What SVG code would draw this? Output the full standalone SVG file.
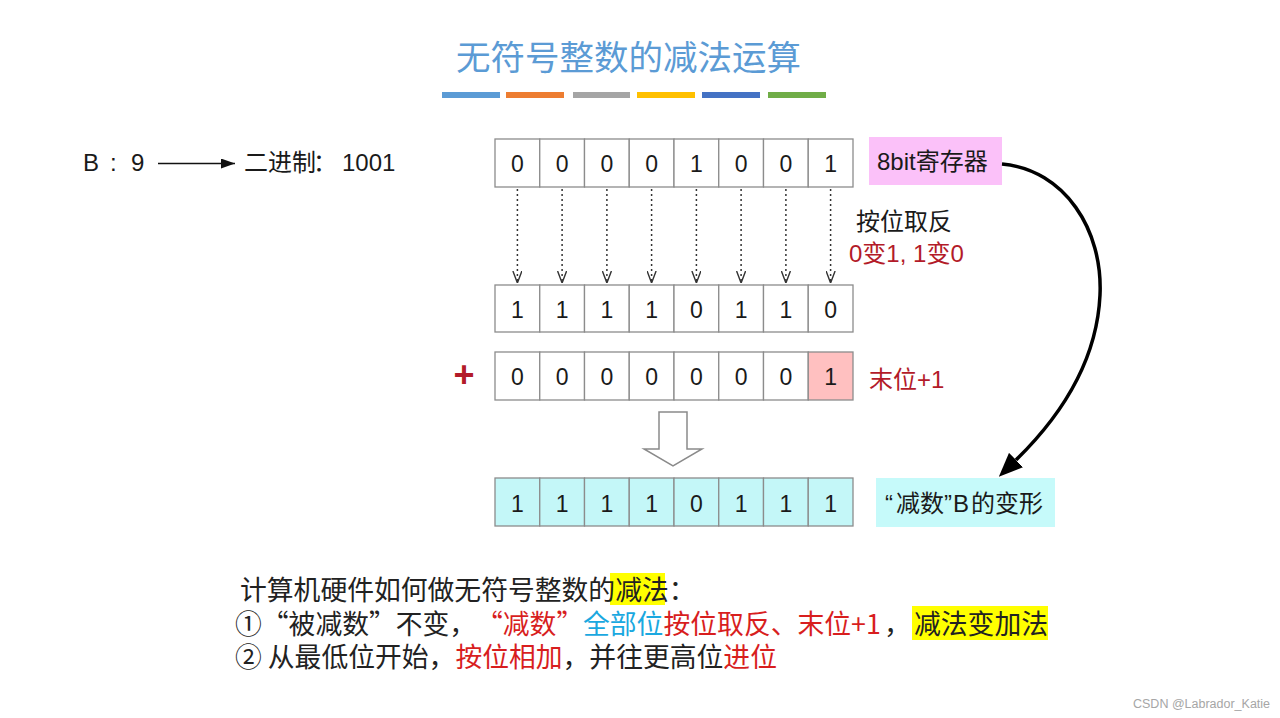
<svg xmlns="http://www.w3.org/2000/svg" width="1280" height="718" viewBox="0 0 1280 718">
<style>
.cell{fill:#ffffff;stroke:#8c8c8c;stroke-width:1.3}
.num{font-family:"Liberation Sans","Noto Sans CJK SC",sans-serif;font-size:23px;fill:#1a1a1a;text-anchor:middle}
.lbl{font-family:"Liberation Sans","Noto Sans CJK SC",sans-serif;font-size:24px;fill:#1a1a1a}
.body{font-family:"Noto Sans CJK SC",sans-serif;font-size:26.8px;fill:#222222}
.red{fill:#D81E1E}
.blue{fill:#1AA8E0}
.dred{fill:#B31B29}
.hl{fill:#FFFF00}
.dot{stroke:#333333;stroke-width:1.5;stroke-dasharray:2 3;fill:none}
</style>
<defs>
<marker id="openV" viewBox="0 0 12 10" refX="12" refY="5" markerWidth="12" markerHeight="10" markerUnits="userSpaceOnUse" orient="auto">
<path d="M0,0.5 L12,5 L0,9.5" fill="none" stroke="#333333" stroke-width="1.4"/>
</marker>
<marker id="solidS" viewBox="0 0 14 10" refX="14" refY="5" markerWidth="14" markerHeight="10" markerUnits="userSpaceOnUse" orient="auto">
<path d="M0,0 L14,5 L0,10 z" fill="#111111"/>
</marker>
<marker id="solidL" viewBox="0 0 24 20" refX="0" refY="10" markerWidth="24" markerHeight="20" markerUnits="userSpaceOnUse" orient="auto">
<path d="M0,0 L24,10 L0,20 z" fill="#000000"/>
</marker>
</defs>
<rect x="0" y="0" width="1280" height="718" fill="#ffffff"/>

<g id="title">
<text x="628.5" y="70" font-family="Noto Sans CJK SC, sans-serif" font-size="34.5" fill="#5B9BD5" text-anchor="middle">无符号整数的减法运算</text>
<rect x="442" y="92" width="58" height="6" fill="#5B9BD5"/>
<rect x="506" y="92" width="58" height="6" fill="#ED7D31"/>
<rect x="573" y="92" width="57" height="6" fill="#A5A5A5"/>
<rect x="637" y="92" width="58" height="6" fill="#FFC000"/>
<rect x="702" y="92" width="58" height="6" fill="#4472C4"/>
<rect x="768" y="92" width="58" height="6" fill="#70AD47"/>
</g>

<g id="b-value">
<text class="lbl" y="171" font-size="22"><tspan x="83">B</tspan><tspan x="110">:</tspan><tspan x="131">9</tspan></text>
</g>
<g id="b-binary">
<text class="lbl" y="171" font-size="22"><tspan x="244">二进制</tspan><tspan x="313">：</tspan><tspan x="342">1001</tspan></text>
</g>

<g id="row-original">
<rect class="cell" x="495" y="139" width="44.75" height="48"/>
<rect class="cell" x="539.75" y="139" width="44.75" height="48"/>
<rect class="cell" x="584.5" y="139" width="44.75" height="48"/>
<rect class="cell" x="629.25" y="139" width="44.75" height="48"/>
<rect class="cell" x="674" y="139" width="44.75" height="48"/>
<rect class="cell" x="718.75" y="139" width="44.75" height="48"/>
<rect class="cell" x="763.5" y="139" width="44.75" height="48"/>
<rect class="cell" x="808.25" y="139" width="44.75" height="48"/>
<text class="num" y="172"><tspan x="517.4">0</tspan><tspan x="562.1">0</tspan><tspan x="606.9">0</tspan><tspan x="651.6">0</tspan><tspan x="696.4">1</tspan><tspan x="741.1">0</tspan><tspan x="785.9">0</tspan><tspan x="830.6">1</tspan></text>
</g>

<g id="row-inverted">
<rect class="cell" x="495" y="285" width="44.75" height="47"/>
<rect class="cell" x="539.75" y="285" width="44.75" height="47"/>
<rect class="cell" x="584.5" y="285" width="44.75" height="47"/>
<rect class="cell" x="629.25" y="285" width="44.75" height="47"/>
<rect class="cell" x="674" y="285" width="44.75" height="47"/>
<rect class="cell" x="718.75" y="285" width="44.75" height="47"/>
<rect class="cell" x="763.5" y="285" width="44.75" height="47"/>
<rect class="cell" x="808.25" y="285" width="44.75" height="47"/>
<text class="num" y="318"><tspan x="517.4">1</tspan><tspan x="562.1">1</tspan><tspan x="606.9">1</tspan><tspan x="651.6">1</tspan><tspan x="696.4">0</tspan><tspan x="741.1">1</tspan><tspan x="785.9">1</tspan><tspan x="830.6">0</tspan></text>
</g>

<g id="row-plus-one">
<text x="464" y="387" font-family="Liberation Sans, sans-serif" font-size="36" font-weight="bold" fill="#B31B29" text-anchor="middle">+</text>
<rect class="cell" x="495" y="352" width="44.75" height="48"/>
<rect class="cell" x="539.75" y="352" width="44.75" height="48"/>
<rect class="cell" x="584.5" y="352" width="44.75" height="48"/>
<rect class="cell" x="629.25" y="352" width="44.75" height="48"/>
<rect class="cell" x="674" y="352" width="44.75" height="48"/>
<rect class="cell" x="718.75" y="352" width="44.75" height="48"/>
<rect class="cell" x="763.5" y="352" width="44.75" height="48"/>
<rect class="cell" x="808.25" y="352" width="44.75" height="48" style="fill:#FFC0C0"/>
<text class="num" y="385"><tspan x="517.4">0</tspan><tspan x="562.1">0</tspan><tspan x="606.9">0</tspan><tspan x="651.6">0</tspan><tspan x="696.4">0</tspan><tspan x="741.1">0</tspan><tspan x="785.9">0</tspan><tspan x="830.6">1</tspan></text>
</g>

<g id="down-arrow">
<polygon points="659,412 687,412 687,449 702,449 673,466 644,449 659,449" fill="#ffffff" stroke="#8a8a8a" stroke-width="1.5" stroke-linejoin="miter"/>
</g>

<g id="row-result">
<rect class="cell" x="495" y="478" width="44.75" height="48" style="fill:#C4F7F8"/>
<rect class="cell" x="539.75" y="478" width="44.75" height="48" style="fill:#C4F7F8"/>
<rect class="cell" x="584.5" y="478" width="44.75" height="48" style="fill:#C4F7F8"/>
<rect class="cell" x="629.25" y="478" width="44.75" height="48" style="fill:#C4F7F8"/>
<rect class="cell" x="674" y="478" width="44.75" height="48" style="fill:#C4F7F8"/>
<rect class="cell" x="718.75" y="478" width="44.75" height="48" style="fill:#C4F7F8"/>
<rect class="cell" x="763.5" y="478" width="44.75" height="48" style="fill:#C4F7F8"/>
<rect class="cell" x="808.25" y="478" width="44.75" height="48" style="fill:#C4F7F8"/>
<text class="num" y="511.5"><tspan x="517.4">1</tspan><tspan x="562.1">1</tspan><tspan x="606.9">1</tspan><tspan x="651.6">1</tspan><tspan x="696.4">0</tspan><tspan x="741.1">1</tspan><tspan x="785.9">1</tspan><tspan x="830.6">1</tspan></text>
</g>

<g id="label-register">
<rect x="869" y="137" width="133" height="48" fill="#FBC1F9"/>
<text class="lbl" x="877" y="170">8bit寄存器</text>
</g>
<g id="label-invert">
<text class="lbl" x="856" y="230">按位取反</text>
<text class="lbl dred" x="849" y="262" font-size="23.5">0变1, 1变0</text>
</g>
<g id="label-last-bit">
<text class="lbl dred" x="869" y="388">末位+1</text>
</g>
<g id="label-result">
<rect x="876" y="478" width="179" height="49" fill="#C6FAFA"/>
<text class="lbl" y="512"><tspan x="885">“</tspan><tspan x="896">减数</tspan><tspan x="944">”</tspan><tspan x="953">B</tspan><tspan x="971">的变形</tspan></text>
</g>

<g id="connectors">
<line x1="158" y1="163.5" x2="235" y2="163.5" stroke="#111111" stroke-width="1.4" marker-end="url(#solidS)"/>
<line class="dot" x1="517.4" y1="189" x2="517.4" y2="283" marker-end="url(#openV)"/>
<line class="dot" x1="562.1" y1="189" x2="562.1" y2="283" marker-end="url(#openV)"/>
<line class="dot" x1="606.9" y1="189" x2="606.9" y2="283" marker-end="url(#openV)"/>
<line class="dot" x1="651.6" y1="189" x2="651.6" y2="283" marker-end="url(#openV)"/>
<line class="dot" x1="696.4" y1="189" x2="696.4" y2="283" marker-end="url(#openV)"/>
<line class="dot" x1="741.1" y1="189" x2="741.1" y2="283" marker-end="url(#openV)"/>
<line class="dot" x1="785.9" y1="189" x2="785.9" y2="283" marker-end="url(#openV)"/>
<line class="dot" x1="830.6" y1="189" x2="830.6" y2="283" marker-end="url(#openV)"/>
<path d="M1002,164 C1065,170 1103,230 1100,295 C1097,360 1062,415 1016,460" fill="none" stroke="#000000" stroke-width="3.5" marker-end="url(#solidL)"/>
</g>

<g id="summary">
<rect class="hl" x="610" y="573" width="55" height="32"/>
<rect class="hl" x="912" y="606" width="136" height="34"/>
<text class="body" x="240" y="600" font-size="26.5">计算机硬件如何做无符号整数的减法：</text>
<text class="body" y="634"><tspan x="235">①“被减数”不变，</tspan><tspan class="red" x="476">“减数”</tspan><tspan class="blue" x="583">全部位</tspan><tspan class="red" x="663.5">按位取反、</tspan><tspan class="red" x="797.5">末位+1</tspan><tspan x="884">，</tspan></text>
<text class="body" x="914" y="634" font-size="26.5">减法变加法</text>
<text class="body" x="235" y="667">② 从最低位开始，<tspan class="red">按位相加</tspan>，并往更高位<tspan class="red">进位</tspan></text>
</g>

<g id="watermark">
<text x="1133" y="708" font-family="Liberation Sans, sans-serif" font-size="12.5" fill="#a6a6a6">CSDN @Labrador_Katie</text>
</g>
</svg>
